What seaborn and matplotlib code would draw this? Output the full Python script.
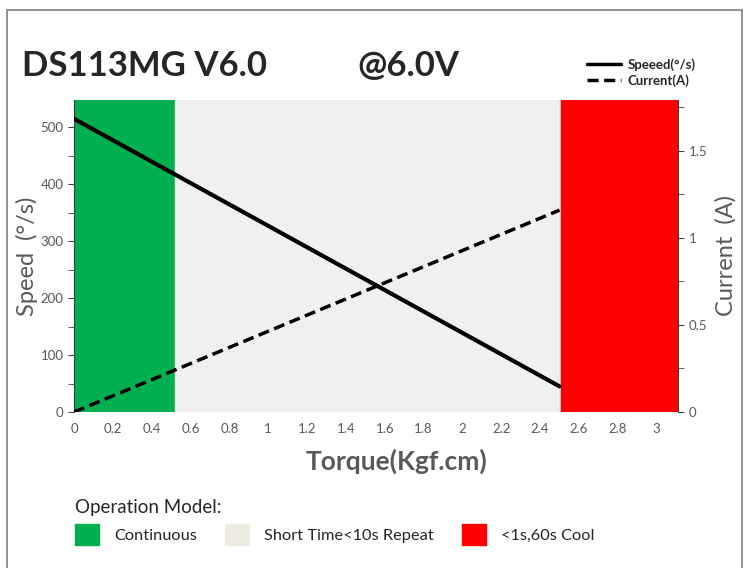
import matplotlib
matplotlib.use("Agg")
import matplotlib.pyplot as plt
import matplotlib.patches as mpatches
from matplotlib.lines import Line2D
from matplotlib.ticker import MultipleLocator
import seaborn as sns
import pandas as pd

# data
torque = [0.0, 2.5]
speed = [515, 45]
current = [0.0, 1.16]
zones = ["Continuous", "Short Time<10s Repeat", "<1s,60s Cool"]
zone_start = [0.0, 0.52, 2.51]
zone_end = [0.52, 2.51, 3.11]
zone_colors = ["#00b050", "#f0f0f0", "#ff0000"]

df = pd.DataFrame({"Torque": torque, "Speed": speed, "Current": current})

sns.set_style("white")
plt.rcParams['font.family'] = ['Lato', 'DejaVu Sans']
gray = "#595959"

fig = plt.figure(figsize=(7.47, 5.68), dpi=100)
ax = fig.add_axes([74/747, 1 - 412/568, (678-74)/747, (412-100)/568])
ax2 = ax.twinx()

# operating zones
for x0, x1, c in zip(zone_start, zone_end, zone_colors):
    ec = "#eeece1" if c == "#f0f0f0" else c
    ax.axvspan(x0, x1, facecolor=c, edgecolor=ec, lw=1, zorder=0)

sns.lineplot(data=df, x="Torque", y="Speed", ax=ax, color="black", lw=3, zorder=3)
sns.lineplot(data=df, x="Torque", y="Current", ax=ax2, color="black", lw=2.5,
             linestyle=(0, (3.2, 1.6)), zorder=3)

ax.set_xlim(0, 3.11)
ax.set_ylim(0, 548)
ax2.set_ylim(0, 1.793)

ax.set_xticks([i * 0.2 for i in range(16)])
ax.set_xticklabels(["0", "0.2", "0.4", "0.6", "0.8", "1", "1.2", "1.4", "1.6", "1.8",
                    "2", "2.2", "2.4", "2.6", "2.8", "3"])
ax.yaxis.set_major_locator(MultipleLocator(100))
ax.yaxis.set_minor_locator(MultipleLocator(50))
ax2.yaxis.set_minor_locator(MultipleLocator(0.25))
ax2.set_yticks([0, 0.5, 1, 1.5])
ax2.set_yticklabels(["0", "0.5", "1", "1.5"])

for a in (ax, ax2):
    for s in a.spines.values():
        s.set_visible(False)
ax.spines['left'].set_visible(True)
ax.spines['left'].set_color("#404040")
ax2.spines['right'].set_visible(True)
ax2.spines['right'].set_color("#404040")

ax.tick_params(axis='x', length=0, labelsize=9.5, labelcolor=gray, pad=8)
ax.tick_params(axis='y', which='both', direction='out', length=4, color="#404040",
               labelsize=9.5, labelcolor=gray, left=True)
ax2.tick_params(axis='y', which='both', direction='out', length=4, color="#404040",
                labelsize=9.5, labelcolor=gray, right=True)

ax.set_xlabel("Torque(Kgf.cm)", fontsize=19, fontweight='bold', color=gray)
ax.xaxis.set_label_coords((397 - 74) / (678 - 74), -(449 - 412) / (412 - 100))
ax.set_ylabel("Speed  (°/s)", fontsize=17, color=gray, labelpad=2)
ax2.set_ylabel("Current  (A)", fontsize=17, color=gray, labelpad=6)
ax.grid(False)
ax2.grid(False)

# outer frame
fig.patches.append(mpatches.Rectangle((7/747, -0.05), (742-7)/747, 1 - 10/568 + 0.05,
                                      transform=fig.transFigure, fill=False,
                                      edgecolor="#7f7f7f", lw=1.2))

fig.text(22/747, 1 - 66/568, "DS113MG V6.0", fontsize=25, fontweight='bold', va='center')
fig.text(357/747, 1 - 66/568, "@6.0V", fontsize=25, fontweight='bold', va='center')

line_handles = [Line2D([], [], color="black", lw=2.5),
                Line2D([], [], color="black", lw=2.5, linestyle=(0, (3.2, 1.6)))]
fig.legend(line_handles, ["Speeed(°/s)", "Current(A)"], loc='upper left',
           bbox_to_anchor=(575/747, 1 - 46/568), frameon=False, handlelength=2.6,
           handletextpad=0.5, labelspacing=0.25, prop={'size': 9.5, 'weight': 'bold'})

zone_handles = [mpatches.Patch(facecolor=c, edgecolor=c) for c in zone_colors]
zone_handles[1] = mpatches.Patch(facecolor="#eeece1", edgecolor="#eeece1")
leg = fig.legend(zone_handles, zones, loc='upper left', ncol=3,
                 bbox_to_anchor=(60/747, 1 - 484/568), frameon=False,
                 title="Operation Model:", title_fontsize=13.5, fontsize=11.8,
                 handlelength=1.5, handleheight=1.6, handletextpad=0.9,
                 columnspacing=1.7)
leg._legend_box.align = "left"

fig.savefig("out.png", dpi=100, facecolor="white")
